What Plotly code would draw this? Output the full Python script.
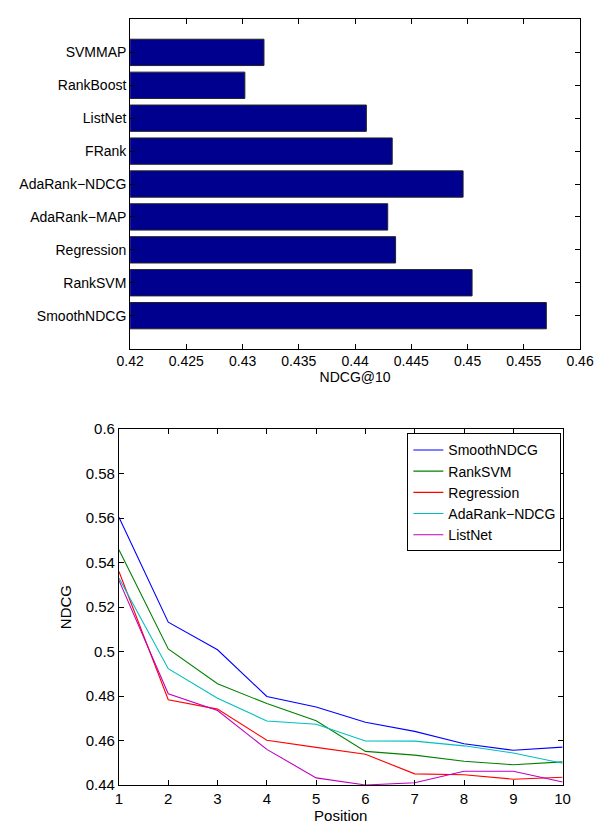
import plotly.graph_objects as go

# ---- data: top bar chart (NDCG@10) ----
methods = ["SmoothNDCG", "RankSVM", "Regression", "AdaRank-MAP", "AdaRank-NDCG",
           "FRank", "ListNet", "RankBoost", "SVMMAP"]
ndcg10 = [0.4570, 0.4504, 0.4436, 0.4429, 0.4496, 0.4433, 0.4410, 0.4302, 0.4319]

# ---- data: bottom line chart (NDCG@n) ----
positions = [1, 2, 3, 4, 5, 6, 7, 8, 9, 10]
smoothndcg = [0.5604, 0.5132, 0.5008, 0.4798, 0.4751, 0.4682, 0.4641, 0.4585, 0.4556, 0.4570]
ranksvm = [0.5458, 0.5012, 0.4855, 0.4766, 0.4689, 0.4551, 0.4534, 0.4507, 0.4491, 0.4504]
regression = [0.5360, 0.4783, 0.4741, 0.4601, 0.4569, 0.4538, 0.4450, 0.4446, 0.4426, 0.4435]
adarank_ndcg = [0.5331, 0.4923, 0.4790, 0.4688, 0.4673, 0.4598, 0.4597, 0.4576, 0.4544, 0.4498]
listnet = [0.5320, 0.4810, 0.4735, 0.4560, 0.4432, 0.4400, 0.4410, 0.4462, 0.4462, 0.4413]

line_series = [
    ("SmoothNDCG", smoothndcg, "#0000FF"),
    ("RankSVM", ranksvm, "#008000"),
    ("Regression", regression, "#FF0000"),
    ("AdaRank\u2212NDCG", adarank_ndcg, "#00BFBF"),
    ("ListNet", listnet, "#BF00BF"),
]

FONT = "Liberation Sans, Arial, Helvetica, sans-serif"
W, H = 610, 825

fig = go.Figure()

fig.add_trace(go.Bar(
    y=[m.replace("-", "\u2212") for m in methods], x=ndcg10, orientation="h",
    marker=dict(color="#00008F", line=dict(color="#222222", width=1)),
    xaxis="x", yaxis="y", showlegend=False,
))

for name, vals, col in line_series:
    fig.add_trace(go.Scatter(
        x=positions, y=vals, mode="lines", name=name,
        line=dict(color=col, width=1.1),
        xaxis="x2", yaxis="y2",
    ))


def axis_style(size):
    return dict(showline=True, linecolor="black", linewidth=1, mirror="ticks",
                ticks="inside", ticklen=5, tickcolor="black", showgrid=False,
                zeroline=False, tickfont=dict(family=FONT, size=size, color="black"))


fig.update_layout(
    width=W, height=H,
    margin=dict(l=0, r=0, t=0, b=0),
    paper_bgcolor="white", plot_bgcolor="white",
    font=dict(family=FONT, color="black"),
    bargap=0.2,
    xaxis=dict(domain=[121.7 / W, 593.3 / W], anchor="y", range=[0.42, 0.46], dtick=0.005,
               title=dict(text="NDCG@10", font=dict(size=14), standoff=0),
               **axis_style(14)),
    yaxis=dict(domain=[1 - 346.7 / H, 1 - 10.7 / H], anchor="x", range=[-1, 9],
               type="category", **axis_style(14)),
    xaxis2=dict(domain=[110 / W, 575 / W], anchor="y2", range=[1, 10], dtick=1,
                title=dict(text="Position", font=dict(size=15), standoff=0),
                **axis_style(15)),
    yaxis2=dict(domain=[1 - 792.3 / H, 1 - 429 / H], anchor="x2", range=[0.44, 0.6], dtick=0.02,
                title=dict(text="NDCG", font=dict(size=15), standoff=10),
                **axis_style(15)),
    legend=dict(x=412.3 / W, xanchor="left", y=1 - 433.3 / H, yanchor="top",
                bordercolor="black", borderwidth=1, bgcolor="white",
                font=dict(family=FONT, size=14, color="black"),
                tracegroupgap=0, itemwidth=30),
)

fig.write_html("out.html", config={"displayModeBar": False},
               post_script="document.body.style.margin='0';document.body.style.overflow='hidden';")
